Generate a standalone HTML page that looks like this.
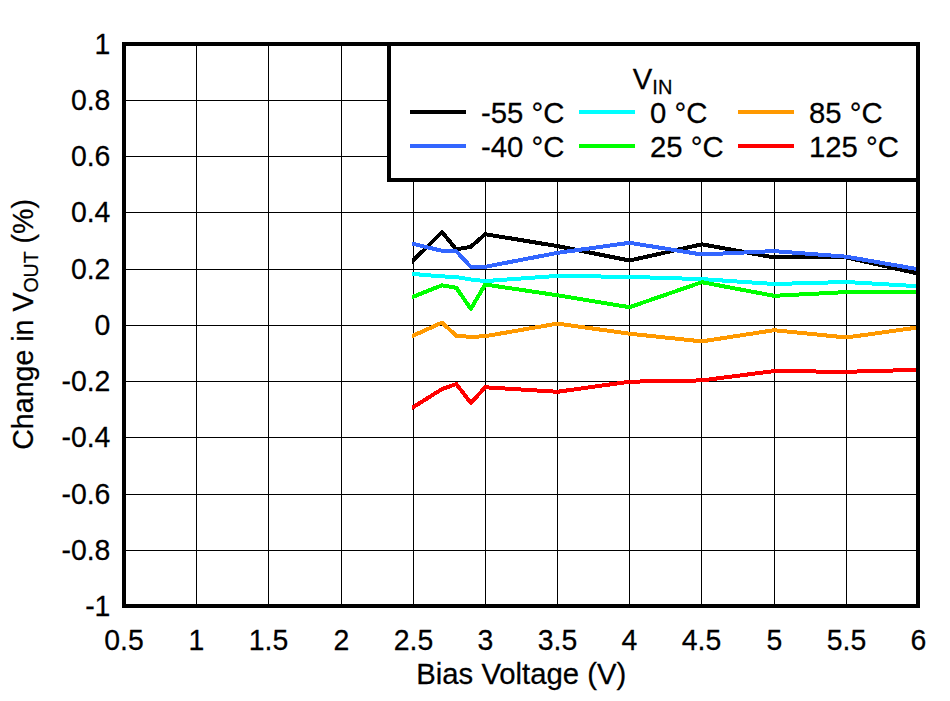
<!DOCTYPE html>
<html lang="en"><head><meta charset="utf-8"><title>Change in VOUT vs Bias Voltage</title>
<style>html,body{margin:0;padding:0;background:#fff}body{width:950px;height:701px;overflow:hidden}svg{display:block}text{font-family:"Liberation Sans",Arial,Helvetica,sans-serif;fill:#000;stroke:#000;stroke-width:0.25}</style></head><body>
<svg width="950" height="701" viewBox="0 0 950 701">
<rect width="950" height="701" fill="#fff"/>
<g fill="#000" shape-rendering="crispEdges">
<rect x="196" y="44" width="1" height="562"/>
<rect x="268" y="44" width="1" height="562"/>
<rect x="341" y="44" width="1" height="562"/>
<rect x="413" y="44" width="1" height="562"/>
<rect x="485" y="44" width="1" height="562"/>
<rect x="557" y="44" width="1" height="562"/>
<rect x="629" y="44" width="1" height="562"/>
<rect x="701" y="44" width="1" height="562"/>
<rect x="774" y="44" width="1" height="562"/>
<rect x="846" y="44" width="1" height="562"/>
<rect x="124" y="100" width="794" height="1"/>
<rect x="124" y="156" width="794" height="1"/>
<rect x="124" y="212" width="794" height="1"/>
<rect x="124" y="269" width="794" height="1"/>
<rect x="124" y="325" width="794" height="1"/>
<rect x="124" y="381" width="794" height="1"/>
<rect x="124" y="437" width="794" height="1"/>
<rect x="124" y="494" width="794" height="1"/>
<rect x="124" y="550" width="794" height="1"/>
</g>
<clipPath id="pc"><rect x="412" y="46" width="506" height="558"/></clipPath>
<g clip-path="url(#pc)" fill="none" stroke-width="4" stroke-linejoin="round" stroke-linecap="butt" shape-rendering="crispEdges">
<polyline stroke="#000000" points="407.4,266.2 412.4,261.3 442.0,232.1 456.3,249.4 470.8,246.8 485.2,234.2 557.4,246.1 629.6,260.5 701.8,244.3 774.0,257.4 846.3,257.4 918.4,273.6"/>
<polyline stroke="#3366ff" points="407.4,242.5 412.4,243.7 442.0,250.8 456.3,251.2 470.8,266.9 485.2,266.8 557.4,252.9 629.6,242.8 701.8,254.5 774.0,251.1 846.3,256.7 918.4,269.3"/>
<polyline stroke="#00ffff" points="407.4,273.5 412.4,273.9 442.0,276.4 456.3,277.0 470.8,279.5 485.2,281.1 557.4,275.9 629.6,276.9 701.8,279.1 774.0,284.0 846.3,282.0 918.4,286.2"/>
<polyline stroke="#00ff00" points="407.4,299.0 412.4,297.0 442.0,285.3 456.3,287.8 470.8,308.9 485.2,284.5 557.4,295.3 629.6,307.2 701.8,282.2 774.0,295.8 846.3,292.1 918.4,291.6"/>
<polyline stroke="#ff9900" points="407.4,338.3 412.4,336.0 442.0,322.6 456.3,335.8 470.8,336.9 485.2,336.2 557.4,323.6 629.6,333.7 701.8,341.4 774.0,330.2 846.3,337.5 918.4,327.4"/>
<polyline stroke="#ff0000" points="407.4,410.7 412.4,407.6 442.0,389.1 456.3,384.0 470.8,403.0 485.2,387.3 557.4,391.8 629.6,381.7 701.8,380.4 774.0,371.1 846.3,371.8 918.4,369.8"/>
</g>
<rect x="124" y="44" width="794" height="562" fill="none" stroke="#000" stroke-width="4" shape-rendering="crispEdges"/>
<rect x="389" y="44" width="529" height="136" fill="#fff" stroke="#000" stroke-width="4" shape-rendering="crispEdges"/>
<g font-size="29.3">
<text transform="translate(632.8 89) scale(1.0 1.03)">V<tspan font-size="20.0" dy="5">IN</tspan></text>
<rect x="410" y="110" width="56" height="4" fill="#000000" shape-rendering="crispEdges"/>
<text transform="translate(481 123) scale(1.0 1.03)">-55 °C</text>
<rect x="410" y="144" width="56" height="4" fill="#3366ff" shape-rendering="crispEdges"/>
<text transform="translate(481 157) scale(1.0 1.03)">-40 °C</text>
<rect x="579" y="110" width="56" height="4" fill="#00ffff" shape-rendering="crispEdges"/>
<text transform="translate(650 123) scale(1.0 1.03)">0 °C</text>
<rect x="579" y="144" width="56" height="4" fill="#00ff00" shape-rendering="crispEdges"/>
<text transform="translate(650 157) scale(1.0 1.03)">25 °C</text>
<rect x="738" y="110" width="56" height="4" fill="#ff9900" shape-rendering="crispEdges"/>
<text transform="translate(809 123) scale(1.0 1.03)">85 °C</text>
<rect x="738" y="144" width="56" height="4" fill="#ff0000" shape-rendering="crispEdges"/>
<text transform="translate(809 157) scale(1.0 1.03)">125 °C</text>
<text text-anchor="end" transform="translate(110.4 53.7) scale(0.97 1.03)">1</text>
<text text-anchor="end" transform="translate(110.4 110.2) scale(0.97 1.03)">0.8</text>
<text text-anchor="end" transform="translate(110.4 166.2) scale(0.97 1.03)">0.6</text>
<text text-anchor="end" transform="translate(110.4 222.2) scale(0.97 1.03)">0.4</text>
<text text-anchor="end" transform="translate(110.4 279.2) scale(0.97 1.03)">0.2</text>
<text text-anchor="end" transform="translate(110.4 335.2) scale(0.97 1.03)">0</text>
<text text-anchor="end" transform="translate(110.4 391.2) scale(0.97 1.03)">-0.2</text>
<text text-anchor="end" transform="translate(110.4 447.2) scale(0.97 1.03)">-0.4</text>
<text text-anchor="end" transform="translate(110.4 504.2) scale(0.97 1.03)">-0.6</text>
<text text-anchor="end" transform="translate(110.4 560.2) scale(0.97 1.03)">-0.8</text>
<text text-anchor="end" transform="translate(110.4 615.7) scale(0.97 1.03)">-1</text>
<text text-anchor="middle" transform="translate(124 650) scale(0.97 1.03)">0.5</text>
<text text-anchor="middle" transform="translate(196.5 650) scale(0.97 1.03)">1</text>
<text text-anchor="middle" transform="translate(268.5 650) scale(0.97 1.03)">1.5</text>
<text text-anchor="middle" transform="translate(341.5 650) scale(0.97 1.03)">2</text>
<text text-anchor="middle" transform="translate(413.5 650) scale(0.97 1.03)">2.5</text>
<text text-anchor="middle" transform="translate(485.5 650) scale(0.97 1.03)">3</text>
<text text-anchor="middle" transform="translate(557.5 650) scale(0.97 1.03)">3.5</text>
<text text-anchor="middle" transform="translate(629.5 650) scale(0.97 1.03)">4</text>
<text text-anchor="middle" transform="translate(701.5 650) scale(0.97 1.03)">4.5</text>
<text text-anchor="middle" transform="translate(774.5 650) scale(0.97 1.03)">5</text>
<text text-anchor="middle" transform="translate(846.5 650) scale(0.97 1.03)">5.5</text>
<text text-anchor="middle" transform="translate(918.5 650) scale(0.97 1.03)">6</text>
<text text-anchor="middle" transform="translate(521.3 684) scale(1.0 1.03)">Bias Voltage (V)</text>
<text text-anchor="middle" transform="translate(33 324.4) rotate(-90) scale(0.975 1.03)">Change in V<tspan font-size="20.0" dy="5">OUT</tspan><tspan dy="-5"> (%)</tspan></text>
</g>
</svg></body></html>
